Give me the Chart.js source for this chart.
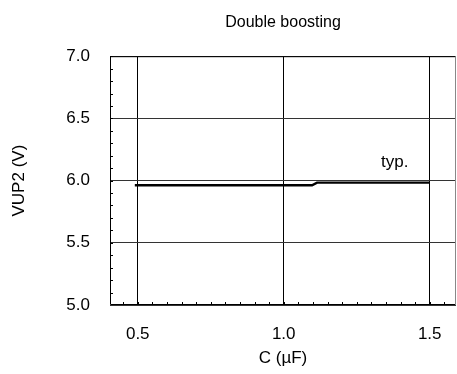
<!DOCTYPE html>
<html>
<head>
<meta charset="utf-8">
<script src="https://cdn.jsdelivr.net/npm/chart.js@4/dist/chart.umd.min.js"></script>
<style>
  html, body { margin: 0; padding: 0; background: #fff; }
  #wrap { width: 457px; height: 374px; position: relative; }
</style>
</head>
<body>
<div id="wrap"><canvas id="c" width="457" height="374"></canvas></div>
<script>
// Data
const capacitance = [0.49, 1.0, 1.097, 1.114, 1.5];       // C (µF)
const vup2 = [5.963, 5.963, 5.963, 5.984, 5.984];          // VUP2 (V)
const xTicks = [0.5, 1.0, 1.5];
const yTicks = [5.0, 5.5, 6.0, 6.5, 7.0];
const titleText = 'Double boosting';
const xTitle = 'C (\u00b5F)';
const yTitle = 'VUP2 (V)';
const curveLabel = 'typ.';
const curveLabelPos = [1.38, 6.15];

const FONT = 'Liberation Sans, Arial, sans-serif';

const decorations = {
  id: 'decorations',
  afterDatasetsDraw(chart) {
    const {ctx, chartArea: a, scales: {x, y}} = chart;
    ctx.save();
    ctx.strokeStyle = '#000';
    ctx.lineWidth = 1;
    ctx.beginPath();
    for (let v = 0.45; v < 1.59; v += 0.05) {
      const px = Math.round(x.getPixelForValue(v)) + 0.5;
      ctx.moveTo(px, a.bottom);
      ctx.lineTo(px, a.bottom - 3);
    }
    for (let v = 5.1; v < 7.0; v += 0.1) {
      const py = Math.round(y.getPixelForValue(v)) + 0.5;
      ctx.moveTo(a.left, py);
      ctx.lineTo(a.left + 3, py);
    }
    ctx.stroke();
    ctx.beginPath();
    ctx.moveTo(a.right, a.top + 0.5);
    ctx.lineTo(a.left + 0.5, a.top + 0.5);
    ctx.lineTo(a.left + 0.5, a.bottom - 0.5);
    ctx.lineTo(a.right, a.bottom - 0.5);
    ctx.stroke();
    ctx.strokeStyle = '#888';
    ctx.beginPath();
    ctx.moveTo(a.right - 0.5, a.top);
    ctx.lineTo(a.right - 0.5, a.bottom);
    ctx.stroke();
    ctx.fillStyle = '#000';
    ctx.font = '17px ' + FONT;
    ctx.textAlign = 'center';
    ctx.textBaseline = 'middle';
    ctx.fillText(curveLabel, x.getPixelForValue(curveLabelPos[0]), y.getPixelForValue(curveLabelPos[1]));
    ctx.restore();
  }
};

new Chart(document.getElementById('c'), {
  type: 'line',
  data: {
    datasets: [{
      data: capacitance.map((c, i) => ({x: c, y: vup2[i]})),
      borderColor: '#000',
      borderWidth: 2.4,
      pointRadius: 0,
      tension: 0,
      borderCapStyle: 'butt'
    }]
  },
  options: {
    responsive: false,
    animation: false,
    events: [],
    layout: { padding: { top: 0, right: 1, bottom: 0, left: 0 } },
    plugins: {
      legend: { display: false },
      tooltip: { enabled: false },
      title: {
        display: true,
        text: titleText,
        color: '#000',
        fullSize: false,
        font: { family: FONT, size: 16, weight: 'normal', lineHeight: 1.2 },
        padding: { top: 13, bottom: 24 }
      }
    },
    scales: {
      x: {
        type: 'linear',
        min: 0.405,
        max: 1.59,
        afterBuildTicks(s) { s.ticks = xTicks.map(v => ({value: v})); },
        afterFit(s) { s.height = 69; s.paddingLeft = 0; s.paddingRight = 0; },
        grid: { color: '#000', lineWidth: 1, drawTicks: false },
        border: { display: false },
        ticks: {
          color: '#000',
          font: { family: FONT, size: 17 },
          padding: 19,
          maxRotation: 0,
          callback: v => v.toFixed(1)
        },
        title: {
          display: true,
          text: xTitle,
          color: '#000',
          font: { family: FONT, size: 17, lineHeight: 1.2 },
          padding: { top: 0, bottom: 5 }
        }
      },
      y: {
        type: 'linear',
        min: 5.0,
        max: 7.0,
        afterBuildTicks(s) { s.ticks = yTicks.map(v => ({value: v})); },
        afterFit(s) { s.width = 110; s.paddingTop = 0; s.paddingBottom = 0; },
        grid: { color: '#333', lineWidth: 1, drawTicks: false },
        border: { display: false },
        ticks: {
          color: '#000',
          font: { family: FONT, size: 17 },
          padding: 20,
          callback: v => v.toFixed(1)
        },
        title: {
          display: true,
          text: yTitle,
          color: '#000',
          font: { family: FONT, size: 17, lineHeight: 1.2 },
          padding: { top: 9, bottom: 0 }
        }
      }
    }
  },
  plugins: [decorations]
});
</script>
</body>
</html>
